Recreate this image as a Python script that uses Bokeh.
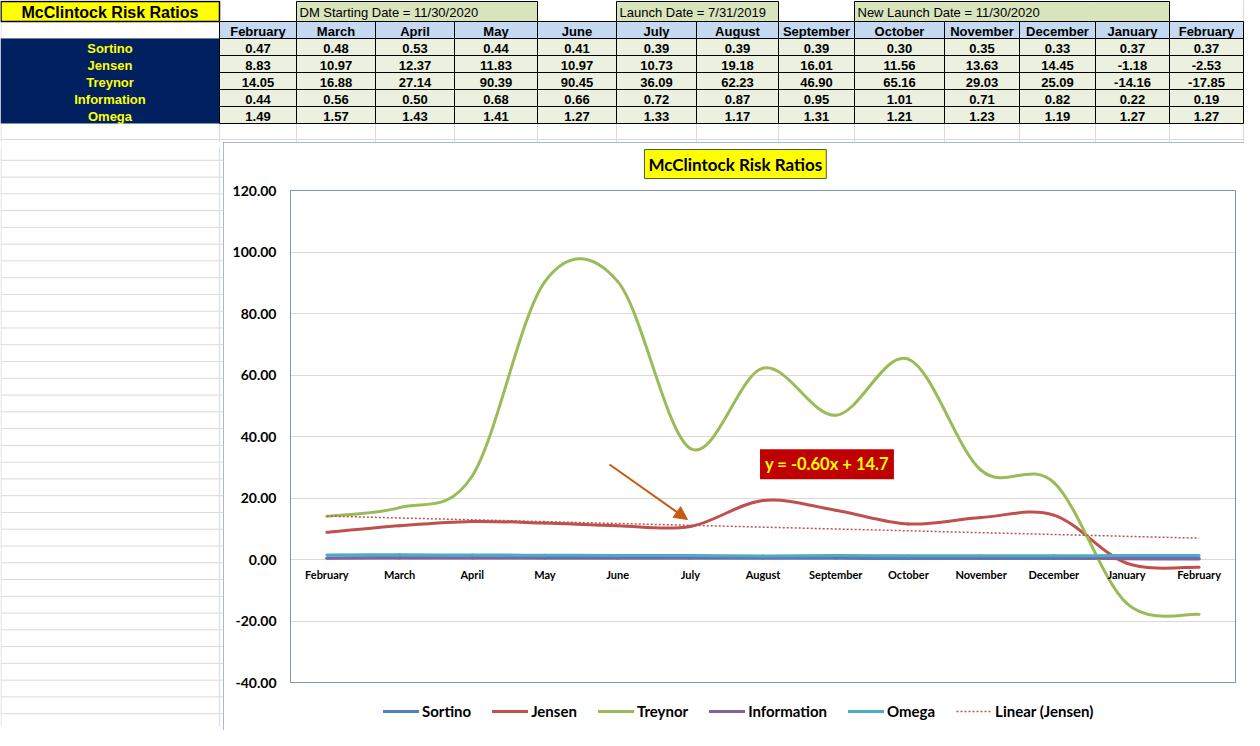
import numpy as np
from bokeh.plotting import figure
from bokeh.models import (Range1d, FixedTicker, NumeralTickFormatter, Label, Arrow,
                          NormalHead, Legend, LegendItem)
from bokeh.layouts import column, row
from bokeh.core.properties import value
from bokeh.embed import file_html
from bokeh.resources import INLINE

# ---------------- data ----------------
months = ["February", "March", "April", "May", "June", "July", "August",
          "September", "October", "November", "December", "January", "February"]
ratio_names = ["Sortino", "Jensen", "Treynor", "Information", "Omega"]
sortino = [0.47, 0.48, 0.53, 0.44, 0.41, 0.39, 0.39, 0.39, 0.30, 0.35, 0.33, 0.37, 0.37]
jensen = [8.83, 10.97, 12.37, 11.83, 10.97, 10.73, 19.18, 16.01, 11.56, 13.63, 14.45, -1.18, -2.53]
treynor = [14.05, 16.88, 27.14, 90.39, 90.45, 36.09, 62.23, 46.90, 65.16, 29.03, 25.09, -14.16, -17.85]
information = [0.44, 0.56, 0.50, 0.68, 0.66, 0.72, 0.87, 0.95, 1.01, 0.71, 0.82, 0.22, 0.19]
omega = [1.49, 1.57, 1.43, 1.41, 1.27, 1.33, 1.17, 1.31, 1.21, 1.23, 1.19, 1.27, 1.27]
series = [sortino, jensen, treynor, information, omega]
date_notes = ["DM Starting Date = 11/30/2020", "Launch Date = 7/31/2019",
              "New Launch Date = 11/30/2020"]
note_spans = [(1, 3), (5, 6), (8, 11)]      # first / last month column covered
y_ticks = [-40, -20, 0, 20, 40, 60, 80, 100, 120]
sheet_title = "McClintock Risk Ratios"
chart_title = "McClintock Risk Ratios"

# ---------------- styles / layout ----------------
series_colors = ["#4F81BD", "#C0504D", "#9BBB59", "#8064A2", "#4BACC6"]
ARIAL = "'Liberation Sans', Arial, sans-serif"
CAL = "Lato"
W, H_TABLE, H_CHART, W_LEFT = 1244, 142, 588, 223
col_edges = [219, 296, 375, 454, 537, 616, 696, 778, 854, 944, 1019, 1095, 1169, 1243]
ROW_H = 17
TITLE_TOP, TITLE_BOT = 1, 21
HEAD_TOP, HEAD_BOT = 21, 38
DATA_TOP = 38
LABEL_CX = 109.5
SHEET_GRID = "#DADADA"
# chart geometry (pixels)
FRAME_W, FRAME_PLOT_H = 945, 492
TOP_ZONE, LEGEND_ZONE = 44, 44
MB_LEFT, MB_TOP = 66, 4

# ---------------- spreadsheet table ----------------
t = figure(width=W, height=H_TABLE, x_range=Range1d(0, W), y_range=Range1d(H_TABLE, 0),
           output_backend="svg", toolbar_location=None, min_border=0,
           x_axis_location=None, y_axis_location=None)
t.grid.visible = False
t.outline_line_color = None

data_bot = DATA_TOP + ROW_H * len(ratio_names)
sheet_rows = [TITLE_BOT, HEAD_BOT, data_bot + ROW_H - 1]
t.segment(x0=[0] * 3, x1=[W] * 3, y0=sheet_rows, y1=sheet_rows,
          line_color=SHEET_GRID, line_width=1)
vx = [0.5] + col_edges
t.segment(x0=vx, x1=vx, y0=[0] * len(vx), y1=[H_TABLE] * len(vx),
          line_color=SHEET_GRID, line_width=1)

# title cell
t.quad(left=[0.5], right=[col_edges[0]], top=[TITLE_TOP], bottom=[TITLE_BOT],
       fill_color="#FFFF00", line_color="black", line_width=1.5)
t.text(x=[LABEL_CX], y=[(TITLE_TOP + TITLE_BOT) / 2 + 1], text=[sheet_title],
       text_align="center", text_baseline="middle", text_font=value(ARIAL),
       text_font_style="bold", text_font_size="16px", text_color="black")

# date notes
nl = [col_edges[a] for a, b in note_spans]
nr = [col_edges[b + 1] for a, b in note_spans]
t.quad(left=nl, right=nr, top=[TITLE_TOP] * 3, bottom=[TITLE_BOT] * 3,
       fill_color="#D8E4BC", line_color="black", line_width=1)
t.text(x=[v + 3 for v in nl], y=[(TITLE_TOP + TITLE_BOT) / 2 + 1] * 3, text=date_notes,
       text_align="left", text_baseline="middle", text_font=value(ARIAL),
       text_font_size="13px", text_color="black")

# month header
lefts = col_edges[:-1]
rights = col_edges[1:]
centers = [(a + b) / 2 for a, b in zip(lefts, rights)]
n = len(months)
t.quad(left=lefts, right=rights, top=[HEAD_TOP] * n, bottom=[HEAD_BOT] * n,
       fill_color="#C5D9F1", line_color="black", line_width=1)
t.text(x=centers, y=[(HEAD_TOP + HEAD_BOT) / 2 + 1] * n, text=months,
       text_align="center", text_baseline="middle", text_font=value(ARIAL),
       text_font_style="bold", text_font_size="13px", text_color="black")

# label column
t.quad(left=[0], right=[col_edges[0]], top=[DATA_TOP], bottom=[data_bot],
       fill_color="#002060", line_color=None)
row_centers = [DATA_TOP + ROW_H * (i + 0.5) + 1 for i in range(len(ratio_names))]
t.text(x=[LABEL_CX] * len(ratio_names), y=row_centers, text=ratio_names,
       text_align="center", text_baseline="middle", text_font=value(ARIAL),
       text_font_style="bold", text_font_size="13px", text_color="#FFFF00")

# data cells
cl, cr, ct, cb, cx, cy, ctext = [], [], [], [], [], [], []
for i, vals in enumerate(series):
    for j, v in enumerate(vals):
        cl.append(lefts[j]); cr.append(rights[j])
        ct.append(DATA_TOP + ROW_H * i); cb.append(DATA_TOP + ROW_H * (i + 1))
        cx.append(centers[j]); cy.append(row_centers[i]); ctext.append(f"{v:.2f}")
t.quad(left=cl, right=cr, top=ct, bottom=cb, fill_color="#EBF1DE",
       line_color="black", line_width=1)
t.text(x=cx, y=cy, text=ctext, text_align="center", text_baseline="middle",
       text_font=value(ARIAL), text_font_style="bold", text_font_size="13px",
       text_color="black")

# ---------------- left blank sheet area ----------------
left = figure(width=W_LEFT, height=H_CHART, x_range=Range1d(0, W_LEFT),
              y_range=Range1d(H_CHART, 0), output_backend="svg", toolbar_location=None,
              min_border=0, x_axis_location=None, y_axis_location=None)
left.grid.visible = False
left.outline_line_color = None
hy = np.arange(14, H_CHART, ROW_H)
left.segment(x0=np.zeros(len(hy)), x1=np.full(len(hy), W_LEFT), y0=hy, y1=hy,
             line_color=SHEET_GRID, line_width=1)
left.segment(x0=[0.5, col_edges[0]], x1=[0.5, col_edges[0]], y0=[0, 0], y1=[H_CHART, H_CHART],
             line_color=SHEET_GRID, line_width=1)

# ---------------- chart ----------------
xs = np.arange(1, n + 1, dtype=float)
x_px = FRAME_W / n                       # pixels per category
y_px = FRAME_PLOT_H / (max(y_ticks) - min(y_ticks))
x_lo, x_hi = 0.5 - 1 / x_px, n + 0.5 + 1 / x_px
y_hi = max(y_ticks) + TOP_ZONE / y_px
y_lo = min(y_ticks) - LEGEND_ZONE / y_px
frame_h = FRAME_PLOT_H + TOP_ZONE + LEGEND_ZONE
c = figure(width=W - W_LEFT, height=H_CHART, x_range=Range1d(x_lo, x_hi),
           y_range=Range1d(y_lo, y_hi), output_backend="svg", toolbar_location=None,
           min_border_left=MB_LEFT, min_border_right=W - W_LEFT - MB_LEFT - FRAME_W - 2,
           min_border_top=MB_TOP, min_border_bottom=H_CHART - MB_TOP - frame_h,
           x_axis_location=None,
           styles={"outline": "1px solid #8DA3BA", "outline-offset": "-1px"})
c.background_fill_color = "white"
c.border_fill_color = "white"
c.outline_line_color = None
c.xgrid.visible = False
c.ygrid.ticker = FixedTicker(ticks=y_ticks)
c.ygrid.grid_line_color = "#D9D9D9"
c.yaxis.ticker = FixedTicker(ticks=y_ticks)
c.yaxis.formatter = NumeralTickFormatter(format="0.00")
c.yaxis.axis_line_color = None
c.yaxis.major_tick_line_color = None
c.yaxis.major_tick_out = 0
c.yaxis.major_tick_in = 0
c.yaxis.minor_tick_line_color = None
c.yaxis.minor_tick_out = 0
c.yaxis.major_label_standoff = 13
c.yaxis.major_label_text_font = CAL
c.yaxis.major_label_text_font_style = "bold"
c.yaxis.major_label_text_font_size = "14px"
c.yaxis.major_label_text_color = "black"

# plot-area border
c.quad(left=[0.5], right=[n + 0.5], bottom=[min(y_ticks)], top=[max(y_ticks)],
       fill_color=None, line_color="#7E96AE", line_width=1)


def smooth_segments(vals):
    y = np.asarray(vals, dtype=float)
    m = len(y)
    px = np.concatenate([[xs[0]], xs, [xs[-1]]])
    py = np.concatenate([[y[0]], y, [y[-1]]])
    prev_x, cur_x, nxt_x, nxt2_x = px[0:m - 1], px[1:m], px[2:m + 1], px[3:m + 2]
    prev_y, cur_y, nxt_y, nxt2_y = py[0:m - 1], py[1:m], py[2:m + 1], py[3:m + 2]
    return dict(x0=cur_x, y0=cur_y, x1=nxt_x, y1=nxt_y,
                cx0=cur_x + (nxt_x - prev_x) / 6, cy0=cur_y + (nxt_y - prev_y) / 6,
                cx1=nxt_x - (nxt2_x - cur_x) / 6, cy1=nxt_y - (nxt2_y - cur_y) / 6)


renderers = []
for vals, col in zip(series, series_colors):
    r = c.bezier(**smooth_segments(vals), line_color=col, line_width=3, line_cap="round")
    renderers.append(r)

slope, intercept = np.polyfit(xs, np.asarray(jensen), 1)
trend = c.line(xs, slope * xs + intercept, line_color="#C0504D", line_width=1.5,
               line_dash="2 2")

c.text(x=xs, y=np.zeros(n), text=months, y_offset=15, text_align="center",
       text_baseline="middle", text_font=value(CAL), text_font_style="bold",
       text_font_size="11px", text_color="black")

items = [LegendItem(label=nm, renderers=[r]) for nm, r in zip(ratio_names, renderers)]
items.append(LegendItem(label="Linear (Jensen)", renderers=[trend]))
legend = Legend(items=items, orientation="horizontal", location=(94, 6),
                border_line_color=None, background_fill_alpha=0, padding=0, margin=0,
                spacing=21, glyph_width=36, glyph_height=16, label_standoff=3,
                label_height=16, label_text_font=CAL, label_text_font_style="bold",
                label_text_font_size="15px", label_text_color="black")
c.add_layout(legend)

c.add_layout(Label(x=6.62, y=128.6, text=chart_title, text_align="center",
                   text_baseline="middle", text_font=CAL, text_font_style="bold",
                   text_font_size="17px", text_color="black",
                   background_fill_color="#FFFF00", border_line_color="#4A5A3A",
                   border_line_width=1, padding=4))

eq_text = f"y = {slope:.2f}x + {intercept:.1f}"
c.add_layout(Label(x=7.88, y=31.0, text=eq_text, text_align="center",
                   text_baseline="middle", text_font=CAL, text_font_style="bold",
                   text_font_size="16.5px", text_color="#FFFF00",
                   background_fill_color="#C00000", padding=5))

c.add_layout(Arrow(end=NormalHead(size=13, fill_color="#C55A11", line_color="#C55A11"),
                   x_start=4.889, y_start=30.9, x_end=5.961, y_end=13.0,
                   line_color="#C55A11", line_width=2))

layout = column(t, row(left, c))
open("out.html", "w").write(file_html(layout, INLINE, title="McClintock Risk Ratios"))
